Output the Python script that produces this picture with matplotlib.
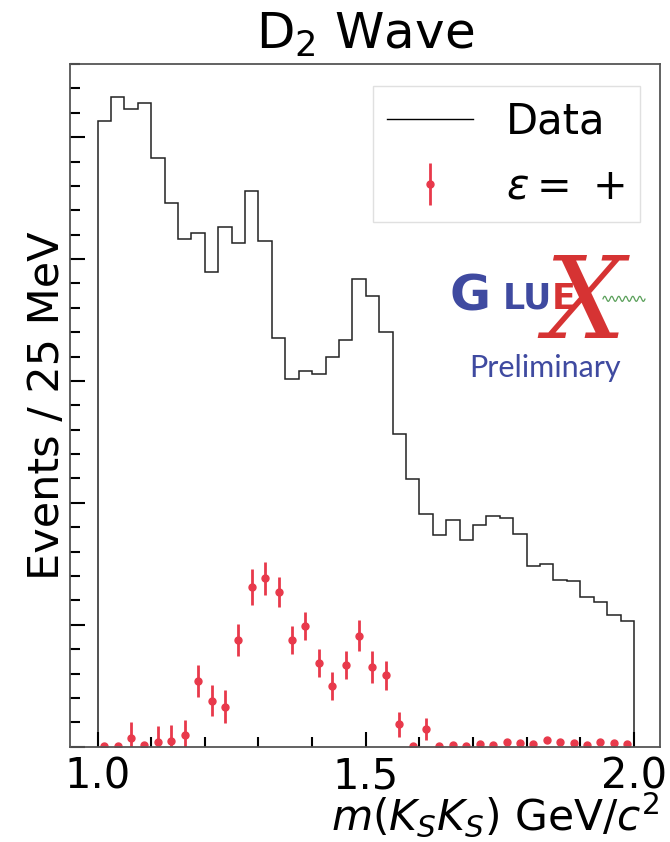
import numpy as np
import matplotlib
matplotlib.use("Agg")
import matplotlib.pyplot as plt
from matplotlib.ticker import MultipleLocator
from matplotlib.lines import Line2D

# m(KsKs) binning: 25 MeV bins from 1.0 to 2.0 GeV
bin_edges = np.linspace(1.0, 2.0, 41)

# total events per bin
data_counts = [2568, 2664, 2616, 2641, 2415, 2229, 2083, 2106, 1947, 2133,
               2065, 2279, 2075, 1675, 1507, 1541, 1529, 1598, 1667, 1917,
               1847, 1701, 1284, 1097, 956, 868, 929, 846, 911, 947,
               936, 873, 743, 750, 682, 678, 615, 594, 540, 516]

# D2 wave, positive reflectivity
d2_plus = [2, 2, 34, 6, 18, 24, 46, 269, 188, 164,
           437, 656, 691, 634, 437, 495, 344, 248, 335, 455,
           328, 293, 92, 3, 71, 1, 7, 4, 10, 7,
           20, 14, 11, 26, 20, 14, 6, 19, 16, 11]
d2_plus_err = [4, 4, 66, 6, 66, 66, 63, 64, 64, 67,
               66, 74, 68, 61, 57, 59, 57, 57, 59, 64,
               65, 59, 51, 5, 45, 4, 6, 5, 6, 6,
               8, 7, 6, 9, 8, 7, 5, 8, 7, 6]

centers = 0.5 * (bin_edges[:-1] + bin_edges[1:])
red = "#e8394b"
blue = "#3f4aa0"
logo_red = "#d63333"

fig = plt.figure(figsize=(6.7, 8.42), dpi=100)
ax = fig.add_axes([0.1045, 0.1132, 0.8805, 0.8108])

ax.stairs(data_counts, bin_edges, baseline=0, color="#222222", lw=1.1)
ax.errorbar(centers, d2_plus, yerr=d2_plus_err, fmt="o", color=red,
            ms=5, elinewidth=2, capsize=0)

ax.set_xlim(0.9487, 2.0485)
ax.set_ylim(0, 2800)
ax.xaxis.set_major_locator(MultipleLocator(0.5))
ax.xaxis.set_minor_locator(MultipleLocator(0.1))
ax.yaxis.set_major_locator(MultipleLocator(500))
ax.yaxis.set_minor_locator(MultipleLocator(100))
ax.tick_params(axis="both", which="both", direction="in", top=False, right=False)
ax.tick_params(axis="both", which="major", length=11, width=1.5, labelsize=30, pad=6)
ax.tick_params(axis="both", which="minor", length=7, width=1.5)
ax.tick_params(axis="y", labelleft=False)
for s in ax.spines.values():
    s.set_color("#555555")
    s.set_linewidth(1.3)

ax.set_title(r"D$_2$ Wave", fontsize=36, pad=11)
ax.set_ylabel("Events / 25 MeV", fontsize=31, labelpad=-2)
ax.set_xlabel(r"$m(K_SK_S)$ GeV/$c^2$", fontsize=30.5, loc="right", labelpad=-5)

handles = [Line2D([], [], color="black", lw=1),
           ax.containers[0]]
leg = ax.legend(handles, ["Data", r"$\varepsilon =$ +"], loc="upper right",
                fontsize=30, fancybox=False, framealpha=1, edgecolor="#e0e0e0",
                handlelength=2.05, handletextpad=0.8, borderpad=0.35,
                borderaxespad=0, bbox_to_anchor=(0.966, 0.968), labelspacing=0.55)

# GlueX logo
ax.text(0.678, 0.66, "G", transform=ax.transAxes, fontsize=36, fontweight="bold",
        color=blue, ha="center", va="center", family="DejaVu Sans")
ax.text(0.775, 0.656, "LU", transform=ax.transAxes, fontsize=25, fontweight="bold",
        color=blue, ha="center", va="center", family="DejaVu Sans")
ax.text(0.836, 0.656, "E", transform=ax.transAxes, fontsize=25, fontweight="bold",
        color=logo_red, ha="center", va="center", family="DejaVu Sans")
ax.text(0.872, 0.645, "X", transform=ax.transAxes, fontsize=82, style="italic",
        color=logo_red, ha="center", va="center", family="DejaVu Serif", zorder=4)
wx = np.linspace(0.9034, 0.9746, 100)
ax.plot(wx, 0.656 + 0.0037 * np.sin((wx - 0.9034) * 2 * np.pi / 0.0119),
        transform=ax.transAxes, color="#5aa05a", lw=0.9, zorder=5)
ax.text(0.805, 0.555, "Preliminary", transform=ax.transAxes, fontsize=22,
        color=blue, ha="center", va="center", family="Lato")

fig.savefig("out.png", dpi=100)
